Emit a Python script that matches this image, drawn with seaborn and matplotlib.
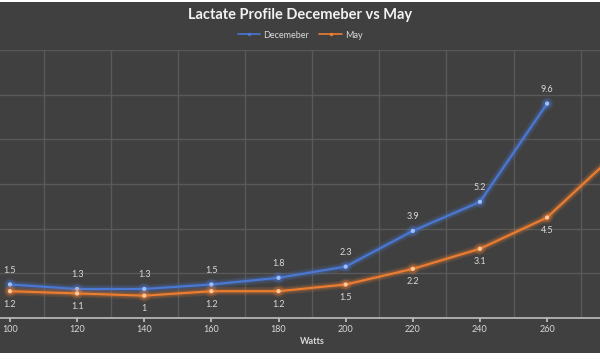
import matplotlib
matplotlib.use("Agg")
import matplotlib.pyplot as plt
import matplotlib.patheffects as pe
from matplotlib.patches import Rectangle
import numpy as np
import pandas as pd
import seaborn as sns

watts = [100, 120, 140, 160, 180, 200, 220, 240, 260, 280]
december = [1.5, 1.3, 1.3, 1.5, 1.8, 2.3, 3.9, 5.2, 9.6, np.nan]
may = [1.2, 1.1, 1.0, 1.2, 1.2, 1.5, 2.2, 3.1, 4.5, 7.3]
tick_labels = ["100", "120", "140", "160", "180", "200", "220", "240", "260"]
series_names = ["Decemeber", "May"]
title = "Lactate Profile Decemeber vs May"
x_label = "Watts"

sns.set_theme(style="dark")
plt.rcParams['font.family'] = ['Lato', 'DejaVu Sans']

BG = "#404040"
GRID = "#595959"
TXT = "#d9d9d9"
colors = {"Decemeber": "#4a78d4", "May": "#ed7d31"}

df = pd.DataFrame({"Watts": watts * 2,
                   "value": december + may,
                   "series": [series_names[0]] * len(watts) + [series_names[1]] * len(watts)})

fig = plt.figure(figsize=(6, 3.6), dpi=100, facecolor="white")
fig.patches.append(Rectangle((0, 7 / 360), 1, (353 - 2) / 360, transform=fig.transFigure,
                             facecolor=BG, edgecolor="none", zorder=-10))

ax = fig.add_axes([-23.6 / 600, 42 / 360, 671.4 / 600, 268 / 360])
ax.set_facecolor(BG)

for name in series_names:
    sub = df[df.series == name].dropna()
    c = colors[name]
    sns.lineplot(data=sub, x="Watts", y="value", ax=ax, color=c, linewidth=1.5,
                 marker="o", markersize=3.0, markeredgewidth=0,
                 markerfacecolor="#9fc0ff" if name == "Decemeber" else "#ffc9a0",
                 label=name, legend=False,
                 path_effects=[pe.Stroke(linewidth=6, foreground=c, alpha=0.15),
                               pe.Stroke(linewidth=3.5, foreground=c, alpha=0.25),
                               pe.Normal()])

n_vis = len(tick_labels)
for x, d, m in zip(watts[:n_vis], december[:n_vis], may[:n_vis]):
    if not np.isnan(d):
        ax.annotate(f"{d:g}", (x, d), xytext=(0, 7), textcoords="offset points",
                    ha="center", va="bottom", fontsize=6.5, color=TXT)
    ax.annotate(f"{m:g}", (x, m), xytext=(0, -6), textcoords="offset points",
                ha="center", va="top", fontsize=6.5, color=TXT)

ax.set_xlim(90, 290)
ax.set_ylim(0, 12)
ax.set_xticks(watts[:n_vis])
ax.set_xticklabels(tick_labels, fontsize=6.5, color=TXT)
ax.set_xticks(np.arange(90, 291, 20), minor=True)
ax.set_yticks(np.arange(0, 12.1, 2))
ax.tick_params(axis="y", left=False, labelleft=False)
ax.tick_params(axis="x", which="major", direction="out", length=3, color="#bfbfbf",
               bottom=True, pad=2)
ax.tick_params(axis="x", which="minor", length=0)
ax.grid(False)
ax.grid(True, axis="y", which="major", color=GRID, linewidth=1)
ax.grid(True, axis="x", which="minor", color=GRID, linewidth=1)
for s in ["top", "right", "left"]:
    ax.spines[s].set_visible(False)
ax.spines["bottom"].set_color("#bfbfbf")
ax.spines["bottom"].set_linewidth(1.2)
ax.set_xlabel(x_label, fontsize=6.5, color=TXT, fontweight="bold", labelpad=2)
ax.set_ylabel("")

fig.text(0.5, 1 - 15 / 360, title, ha="center", va="center", fontsize=10.5,
         fontweight="bold", color="#f2f2f2")

handles = [plt.Line2D([], [], color=colors[n], linewidth=1.2, marker="o", markersize=2.5,
                      markeredgewidth=0) for n in series_names]
fig.legend(handles, series_names, loc="center", bbox_to_anchor=(0.5, 1 - 35 / 360),
           ncol=2, frameon=False, fontsize=6.5, labelcolor=TXT, handlelength=2.5,
           columnspacing=1.2, handletextpad=0.3)

fig.savefig("out.png", dpi=100, facecolor=fig.get_facecolor())
